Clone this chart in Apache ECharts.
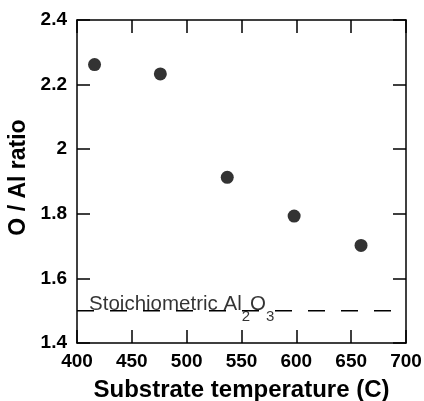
<!DOCTYPE html>
<html>
<head>
<meta charset="utf-8">
<script src="https://cdn.jsdelivr.net/npm/echarts@6/dist/echarts.min.js"></script>
<style>html,body{margin:0;padding:0;background:#fff}#c{width:424px;height:401px}</style>
</head>
<body>
<div id="c"></div>
<script>
var temperatures = [416, 476, 537, 598, 659];
var ratios = [2.262, 2.233, 1.913, 1.793, 1.702];
var stoichRatio = 1.5;
var xRange = [400, 700];
var yRange = [1.4, 2.4];
var annotationText = ['Stoichiometric Al', '2', 'O', '3'];
var annotationX = 411;

var FONT = "'Liberation Sans', Arial, Helvetica, sans-serif";
var chart = echarts.init(document.getElementById('c'), null, {renderer: 'canvas'});
var axisLine = {show: true, lineStyle: {color: '#000', width: 1.5}};
var tick = {show: true, inside: true, length: 13, lineStyle: {color: '#000', width: 1.5}};
var lbl = {color: '#000', fontFamily: FONT, fontWeight: 'bold', fontSize: 19};

chart.setOption({
  animation: false,
  grid: {left: 77, right: 18, top: 20, bottom: 58, containLabel: false, outerBoundsMode: 'none'},
  xAxis: [
    {type: 'value', min: xRange[0], max: xRange[1], interval: 50, position: 'bottom',
     axisLine: axisLine, axisTick: tick, splitLine: {show: false},
     axisLabel: Object.assign({margin: 9}, lbl),
     name: 'Substrate temperature (C)', nameLocation: 'middle', nameGap: 35,
     nameTextStyle: {color: '#000', fontFamily: FONT, fontWeight: 'bold', fontSize: 24}},
    {type: 'value', min: xRange[0], max: xRange[1], interval: 50, position: 'top',
     axisLine: axisLine, axisTick: tick, splitLine: {show: false}, axisLabel: {show: false}}
  ],
  yAxis: [
    {type: 'value', min: yRange[0], max: yRange[1], interval: 0.2, position: 'left',
     axisLine: axisLine, axisTick: tick, splitLine: {show: false},
     axisLabel: Object.assign({margin: 10}, lbl),
     name: 'O / Al ratio', nameLocation: 'middle', nameGap: 41,
     nameTextStyle: {color: '#000', fontFamily: FONT, fontWeight: 'bold', fontSize: 23, padding: [0, 0, 0, 8]}},
    {type: 'value', min: yRange[0], max: yRange[1], interval: 0.2, position: 'right',
     axisLine: axisLine, axisTick: tick, splitLine: {show: false}, axisLabel: {show: false}}
  ],
  series: [
    {type: 'line', data: [[xRange[0], stoichRatio], [xRange[1], stoichRatio]],
     symbol: 'none', silent: true,
     lineStyle: {color: '#000', width: 1.5, type: [17, 16]}},
    {type: 'scatter', data: [[annotationX, stoichRatio]], symbolSize: 0, silent: true,
     label: {show: true, position: [0, -17], align: 'left', verticalAlign: 'top',
       formatter: '{n|' + annotationText[0] + '}{s|' + annotationText[1] + '}{n|' + annotationText[2] + '}{s|' + annotationText[3] + '}',
       rich: {
         n: {fontFamily: FONT, fontSize: 20.5, color: '#000', lineHeight: 23, verticalAlign: 'top'},
         s: {fontFamily: FONT, fontSize: 15, color: '#000', lineHeight: 31, verticalAlign: 'bottom'}
       }}},
    {type: 'scatter', data: temperatures.map(function (t, i) { return [t, ratios[i]]; }),
     symbol: 'circle', symbolSize: 13, itemStyle: {color: '#000'}}
  ]
});
</script>
</body>
</html>
